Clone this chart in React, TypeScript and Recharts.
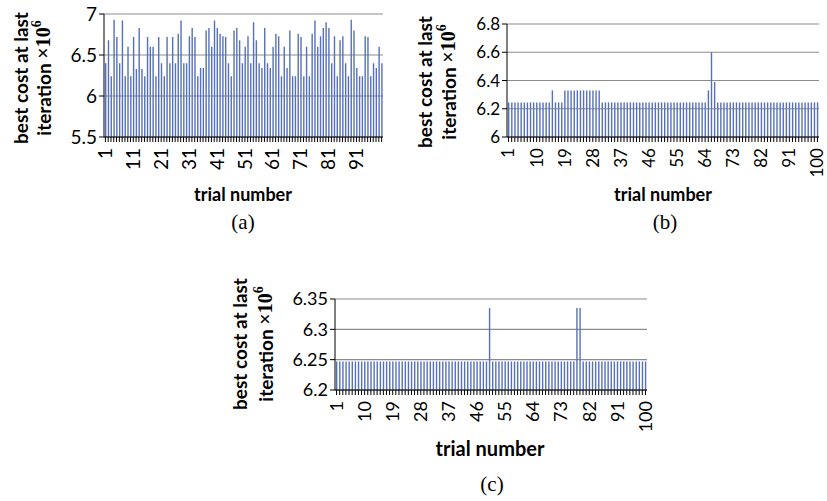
import { Bar, BarChart, CartesianGrid, XAxis, YAxis } from "recharts";

// trial numbers 1..100 (categories)
const trials = Array.from({ length: 100 }, (_, i) => i + 1);

// (a) best cost (×10^6) per trial
const costA = [
  6.4, 6.68, 6.24, 6.93, 6.72, 6.4, 6.92, 6.24, 6.6, 6.24,
  6.72, 6.33, 6.83, 6.33, 6.24, 6.72, 6.6, 6.6, 6.24, 6.72,
  6.4, 6.24, 6.72, 6.4, 6.72, 6.4, 6.76, 6.92, 6.4, 6.4,
  6.73, 6.83, 6.72, 6.24, 6.34, 6.34, 6.8, 6.83, 6.6, 6.92,
  6.83, 6.76, 6.73, 6.72, 6.4, 6.24, 6.8, 6.83, 6.68, 6.4,
  6.6, 6.73, 6.4, 6.9, 6.68, 6.4, 6.34, 6.83, 6.4, 6.34,
  6.6, 6.76, 6.73, 6.24, 6.6, 6.34, 6.8, 6.24, 6.24, 6.76,
  6.72, 6.24, 6.6, 6.24, 6.76, 6.92, 6.6, 6.73, 6.83, 6.9,
  6.83, 6.4, 6.73, 6.24, 6.68, 6.73, 6.4, 6.24, 6.93, 6.8,
  6.34, 6.24, 6.24, 6.73, 6.72, 6.24, 6.4, 6.34, 6.6, 6.4,
];

// (b)
const costB = [
  6.245, 6.245, 6.245, 6.245, 6.245, 6.245, 6.245, 6.245, 6.245, 6.245,
  6.245, 6.245, 6.245, 6.245, 6.33, 6.245, 6.245, 6.245, 6.33, 6.33,
  6.33, 6.33, 6.33, 6.33, 6.33, 6.33, 6.33, 6.33, 6.33, 6.33,
  6.245, 6.245, 6.245, 6.245, 6.245, 6.245, 6.245, 6.245, 6.245, 6.245,
  6.245, 6.245, 6.245, 6.245, 6.245, 6.245, 6.245, 6.245, 6.245, 6.245,
  6.245, 6.245, 6.245, 6.245, 6.245, 6.245, 6.245, 6.245, 6.245, 6.245,
  6.245, 6.245, 6.245, 6.245, 6.33, 6.6, 6.39, 6.245, 6.245, 6.245,
  6.245, 6.245, 6.245, 6.245, 6.245, 6.245, 6.245, 6.245, 6.245, 6.245,
  6.245, 6.245, 6.245, 6.245, 6.245, 6.245, 6.245, 6.245, 6.245, 6.245,
  6.245, 6.245, 6.245, 6.245, 6.245, 6.245, 6.245, 6.245, 6.245, 6.245,
];

// (c)
const costC = [
  6.247, 6.247, 6.247, 6.247, 6.247, 6.247, 6.247, 6.247, 6.247, 6.247,
  6.247, 6.247, 6.247, 6.247, 6.247, 6.247, 6.247, 6.247, 6.247, 6.247,
  6.247, 6.247, 6.247, 6.247, 6.247, 6.247, 6.247, 6.247, 6.247, 6.247,
  6.247, 6.247, 6.247, 6.247, 6.247, 6.247, 6.247, 6.247, 6.247, 6.247,
  6.247, 6.247, 6.247, 6.247, 6.247, 6.247, 6.247, 6.247, 6.247, 6.335,
  6.247, 6.247, 6.247, 6.247, 6.247, 6.247, 6.247, 6.247, 6.247, 6.247,
  6.247, 6.247, 6.247, 6.247, 6.247, 6.247, 6.247, 6.247, 6.247, 6.247,
  6.247, 6.247, 6.247, 6.247, 6.247, 6.247, 6.247, 6.335, 6.335, 6.247,
  6.247, 6.247, 6.247, 6.247, 6.247, 6.247, 6.247, 6.247, 6.247, 6.247,
  6.247, 6.247, 6.247, 6.247, 6.247, 6.247, 6.247, 6.247, 6.247, 6.247,
];

const yTicksA = [5.5, 6, 6.5, 7];
const yTicksB = [6, 6.2, 6.4, 6.6, 6.8];
const yTicksC = [6.2, 6.25, 6.3, 6.35];

const xLabelsA = ["1", "11", "21", "31", "41", "51", "61", "71", "81", "91"];
const xLabelsBC = ["1", "10", "19", "28", "37", "46", "55", "64", "73", "82", "91", "100"];

const FONT = "Lato, 'Open Sans', sans-serif";
const SERIF = "'Liberation Serif', 'Times New Roman', serif";
const BAR = "#5670b9";
const GRID = "#8c8c8c";

const toRows = (values: number[]) => trials.map((t, i) => ({ trial: t, cost: values[i] }));

function TrialTick(props: any) {
  const { x, y, payload, shown, fontSize } = props;
  const label = String(payload.value);
  if (!shown.includes(label)) return <g />;
  const ty = y + 4;
  return (
    <text
      x={x}
      y={ty}
      transform={`rotate(-90, ${x}, ${ty})`}
      textAnchor="end"
      dy="0.35em"
      fontSize={fontSize}
      fontFamily={FONT}
      fill="#000"
    >
      {label}
    </text>
  );
}

interface PanelProps {
  values: number[];
  yTicks: number[];
  xLabels: string[];
  left: number;
  top: number;
  width: number;
  height: number;
  margin: { top: number; right: number };
  yWidth: number;
  xHeight: number;
  fontSize: number;
}

function CostPanel(p: PanelProps) {
  const domain = [p.yTicks[0], p.yTicks[p.yTicks.length - 1]];
  return (
    <div style={{ position: "absolute", left: p.left, top: p.top }}>
      <BarChart
        width={p.width}
        height={p.height}
        data={toRows(p.values)}
        margin={{ top: p.margin.top, right: p.margin.right, left: 0, bottom: 0 }}
      >
        <CartesianGrid vertical={false} stroke={GRID} strokeWidth={1.2} />
        <XAxis
          dataKey="trial"
          interval={0}
          height={p.xHeight}
          tickSize={5}
          axisLine={{ stroke: "#000" }}
          tickLine={{ stroke: "#000" }}
          tick={(tp: any) => <TrialTick {...tp} shown={p.xLabels} fontSize={p.fontSize} />}
        />
        <YAxis
          type="number"
          domain={domain}
          ticks={p.yTicks}
          interval={0}
          allowDataOverflow
          width={p.yWidth}
          tickSize={5}
          axisLine={{ stroke: "#000" }}
          tickLine={{ stroke: "#000" }}
          tick={{ fontSize: p.fontSize, fill: "#000", fontFamily: FONT }}
        />
        <Bar dataKey="cost" fill={BAR} barSize={1.4} isAnimationActive={false} />
      </BarChart>
    </div>
  );
}

function YTitle({ x1, x2, cy, size }: { x1: number; x2: number; cy: number; size: number }) {
  return (
    <g fontFamily={FONT} fontWeight="bold" fontSize={size} fill="#000">
      <text transform={`translate(${x1},${cy}) rotate(-90)`} textAnchor="middle" dominantBaseline="central">
        best cost at last
      </text>
      <text transform={`translate(${x2},${cy}) rotate(-90)`} textAnchor="middle" dominantBaseline="central">
        iteration{" "}
        <tspan fontFamily={SERIF} fontSize={size + 1}>
          ×10
        </tspan>
        <tspan fontFamily={SERIF} fontSize={size - 5} dy={-7}>
          6
        </tspan>
      </text>
    </g>
  );
}

export default function App() {
  return (
    <div
      style={{
        position: "absolute",
        left: 0,
        top: 0,
        width: 827,
        height: 501,
        background: "#fff",
        overflow: "hidden",
      }}
    >
      <CostPanel
        values={costA}
        yTicks={yTicksA}
        xLabels={xLabelsA}
        left={0}
        top={0}
        width={400}
        height={180}
        margin={{ top: 14, right: 17 }}
        yWidth={104}
        xHeight={43}
        fontSize={19}
      />
      <CostPanel
        values={costB}
        yTicks={yTicksB}
        xLabels={xLabelsBC}
        left={400}
        top={0}
        width={427}
        height={180}
        margin={{ top: 24, right: 8 }}
        yWidth={107}
        xHeight={43}
        fontSize={17}
      />
      <CostPanel
        values={costC}
        yTicks={yTicksC}
        xLabels={xLabelsBC}
        left={200}
        top={280}
        width={460}
        height={155}
        margin={{ top: 19, right: 13 }}
        yWidth={135}
        xHeight={45}
        fontSize={18}
      />
      <svg
        width={827}
        height={501}
        style={{ position: "absolute", left: 0, top: 0, pointerEvents: "none" }}
      >
        <YTitle x1={20} x2={43} cy={78} size={19} />
        <YTitle x1={424} x2={448} cy={82} size={19} />
        <YTitle x1={239} x2={265} cy={344} size={19} />
        <g fontFamily={FONT} fontWeight="bold" fontSize={18} fill="#000" textAnchor="middle">
          <text x={243} y={194} dominantBaseline="central">trial number</text>
          <text x={663} y={194} dominantBaseline="central">trial number</text>
          <text x={490} y={448} dominantBaseline="central" fontSize={20}>trial number</text>
        </g>
        <g fontFamily={SERIF} fontSize={21} fill="#000" textAnchor="middle">
          <text x={243} y={222} dominantBaseline="central">(a)</text>
          <text x={665} y={222} dominantBaseline="central">(b)</text>
          <text x={492} y={484} dominantBaseline="central">(c)</text>
        </g>
      </svg>
    </div>
  );
}
